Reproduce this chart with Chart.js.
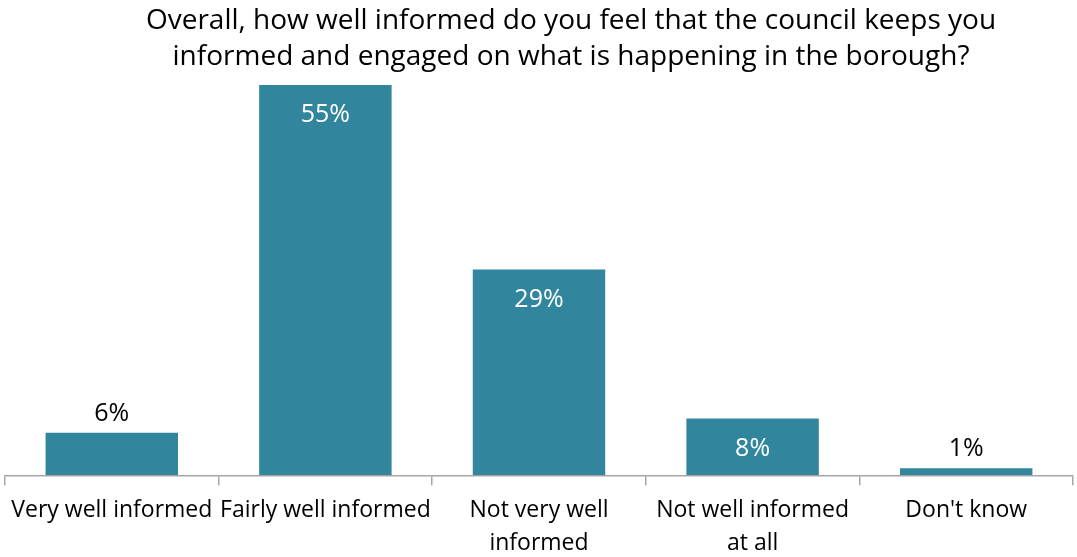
<!DOCTYPE html>
<html>
<head>
<meta charset="utf-8">
<script src="https://cdn.jsdelivr.net/npm/chart.js@4"></script>
<style>
  body { margin: 0; background: #fff; }
  #wrap { width: 1077px; height: 557px; }
</style>
</head>
<body>
<div id="wrap"><canvas id="informedChart"></canvas></div>
<script>
const categories = [
    'Very well informed',
    'Fairly well informed',
    ['Not very well', 'informed'],
    ['Not well informed', 'at all'],
    "Don't know"
];
const shares = [6, 55, 29, 8, 1];
const titleLines = [
    'Overall, how well informed do you feel that the council keeps you',
    'informed and engaged on what is happening in the borough?'
];
const FONT = '"Open Sans", Lato, sans-serif';

// title drawn by hand so it can sit where we want it
const titlePlugin = {
    id: 'titleLines',
    afterDraw(chart) {
        const c = chart.ctx;
        c.save();
        c.font = '28px ' + FONT;
        c.fillStyle = '#000';
        c.textAlign = 'center';
        c.textBaseline = 'alphabetic';
        titleLines.forEach((t, i) => c.fillText(t, 571, 29 + i * 36));
        c.restore();
    }
};

// percentage labels: white inside tall bars, black above short ones
const valueLabels = {
    id: 'valueLabels',
    afterDatasetsDraw(chart) {
        const c = chart.ctx;
        const meta = chart.getDatasetMeta(0);
        c.save();
        c.font = '25px ' + FONT;
        c.textAlign = 'center';
        c.textBaseline = 'middle';
        meta.data.forEach((bar, i) => {
            const v = shares[i];
            const inside = v >= 8;
            c.fillStyle = inside ? '#fff' : '#000';
            const y = inside ? bar.y + 30 : bar.y - 19;
            c.fillText(v + '%', bar.x, y);
        });
        c.restore();
    }
};

new Chart(document.getElementById('informedChart'), {
    type: 'bar',
    data: {
        labels: categories,
        datasets: [{
            data: shares,
            backgroundColor: '#31859C',
            categoryPercentage: 1,
            barPercentage: 0.62
        }]
    },
    options: {
        responsive: true,
        maintainAspectRatio: false,
        animation: false,
        layout: { padding: { top: 85, left: 5, right: 4, bottom: -11 } },
        plugins: {
            legend: { display: false },
            title: { display: false },
            tooltip: { enabled: false }
        },
        scales: {
            x: {
                border: { color: '#a6a6a6', width: 1.5 },
                grid: {
                    drawOnChartArea: false,
                    drawTicks: true,
                    tickLength: 10,
                    color: '#a6a6a6',
                    lineWidth: 1.5
                },
                ticks: {
                    color: '#000',
                    font: { family: FONT, size: 23, lineHeight: 1.45 },
                    padding: 8,
                    maxRotation: 0,
                    autoSkip: false
                }
            },
            y: {
                display: false,
                min: 0,
                max: 55
            }
        }
    },
    plugins: [titlePlugin, valueLabels]
});
</script>
</body>
</html>
